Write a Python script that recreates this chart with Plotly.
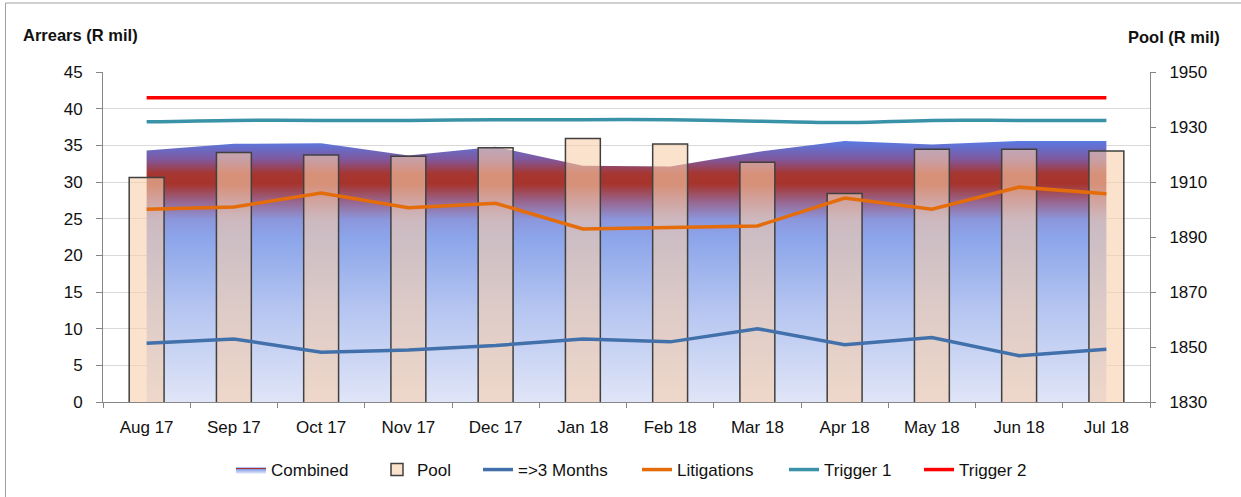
import plotly.graph_objects as go

months = ["Aug 17", "Sep 17", "Oct 17", "Nov 17", "Dec 17", "Jan 18",
          "Feb 18", "Mar 18", "Apr 18", "May 18", "Jun 18", "Jul 18"]
combined = [34.3, 35.2, 35.3, 33.6, 34.8, 32.2, 32.1, 34.1, 35.6, 35.1, 35.6, 35.6]
over3 = [8.0, 8.6, 6.8, 7.1, 7.7, 8.6, 8.2, 10.0, 7.8, 8.8, 6.3, 7.2]
litigations = [26.3, 26.6, 28.5, 26.5, 27.1, 23.6, 23.8, 24.0, 27.8, 26.3, 29.3, 28.4]
trigger1 = [38.2, 38.4, 38.4, 38.4, 38.5, 38.5, 38.5, 38.3, 38.1, 38.4, 38.4, 38.4]
trigger2 = [41.5] * 12
pool = [1911.6, 1920.7, 1919.8, 1919.4, 1922.5, 1925.8, 1923.8, 1917.2, 1905.8, 1921.9, 1921.9, 1921.3]

FONT = "Liberation Sans"
TXT = "#111111"

L, R, T, B = 103, 91, 72, 95
W, H = 1241, 497
pw, ph = W - L - R, H - T - B


def px_x(x):
    return (x - L) / pw


def px_y(y):
    return (T + ph - y) / ph


fig = go.Figure()

fig.add_trace(go.Scatter(
    x=months, y=combined, name="Combined", mode="lines",
    line=dict(width=0, color="rgb(140,80,140)"),
    fill="tozeroy",
    fillgradient=dict(
        type="vertical", start=0, stop=max(combined),
        colorscale=[
            [0.0, "rgb(224,229,247)"],
            [0.35, "rgb(182,198,241)"],
            [0.63, "rgb(140,165,234)"],
            [0.70, "rgb(140,150,220)"],
            [0.77, "rgb(152,100,140)"],
            [0.835, "rgb(166,52,44)"],
            [0.875, "rgb(166,54,48)"],
            [0.93, "rgb(128,88,158)"],
            [1.0, "rgb(88,122,228)"],
        ]),
    xaxis="x", yaxis="y", hoverinfo="skip", legend="legend"))

fig.add_trace(go.Bar(
    x=months, y=pool, name="Pool",
    marker=dict(color="rgba(248,206,172,0.6)",
                line=dict(color="rgb(64,64,64)", width=1.5)),
    width=0.4, xaxis="x", yaxis="y2", legend="legend2"))

line_specs = [
    ("=>3 Months", over3, "rgb(66,112,170)", "linear", "legend3"),
    ("Litigations", litigations, "rgb(228,108,10)", "linear", "legend4"),
    ("Trigger 1", trigger1, "rgb(58,146,168)", "spline", "legend5"),
    ("Trigger 2", trigger2, "rgb(255,0,0)", "linear", "legend6"),
]
for name, vals, col, shape, lg in line_specs:
    fig.add_trace(go.Scatter(
        x=months, y=vals, name=name, mode="lines",
        line=dict(color=col, width=3.5, shape=shape),
        xaxis="x", yaxis="y3", legend=lg))

axis_col = "rgb(134,134,134)"
grid_col = "rgb(217,217,217)"
tickfont = dict(family=FONT, size=17, color=TXT)

# legend text start positions (px)
legend_text_x = [273, 419, 520, 679, 826, 961]
legends = {}
for i, tx in enumerate(legend_text_x):
    key = "legend" if i == 0 else f"legend{i + 1}"
    legends[key] = dict(
        orientation="h", x=px_x(tx - 42), xanchor="left",
        y=px_y(470), yanchor="middle",
        font=dict(family=FONT, size=17, color=TXT),
        bgcolor="rgba(0,0,0,0)")

fig.update_layout(
    width=W, height=H,
    margin=dict(l=L, r=R, t=T, b=B, autoexpand=False),
    paper_bgcolor="white", plot_bgcolor="white",
    font=dict(family=FONT, size=17, color=TXT),
    barmode="overlay",
    xaxis=dict(
        type="category", categoryorder="array", categoryarray=months,
        showline=True, linecolor=axis_col, linewidth=1,
        ticks="outside", ticklen=5, tickcolor=axis_col, tickson="boundaries",
        tickfont=tickfont, showgrid=False, zeroline=False,
        ticklabelstandoff=10, automargin=False),
    yaxis=dict(
        range=[0, 45], dtick=5, showline=True, linecolor=axis_col,
        ticks="outside", ticklen=6, tickcolor=axis_col,
        showgrid=True, gridcolor=grid_col, gridwidth=1, zeroline=False,
        tickfont=tickfont, ticklabelstandoff=10, automargin=False),
    yaxis2=dict(
        range=[1830, 1950], tick0=1830, dtick=20, overlaying="y", side="right",
        showline=True, linecolor=axis_col, ticks="outside", ticklen=5,
        tickcolor=axis_col, showgrid=False, zeroline=False,
        tickfont=tickfont, ticklabelstandoff=10, automargin=False),
    yaxis3=dict(
        range=[0, 45], overlaying="y", visible=False, showgrid=False,
        zeroline=False),
    showlegend=True,
    annotations=[
        dict(text="<b>Arrears (R mil)</b>", xref="paper", yref="paper",
             x=px_x(21), y=px_y(35), xanchor="left",
             yanchor="middle", showarrow=False,
             font=dict(family=FONT, size=16.5, color=TXT)),
        dict(text="<b>Pool (R mil)</b>", xref="paper", yref="paper",
             x=px_x(1222), y=px_y(37), xanchor="right",
             yanchor="middle", showarrow=False,
             font=dict(family=FONT, size=16.5, color=TXT)),
    ],
    shapes=[
        dict(type="rect", xref="paper", yref="paper",
             x0=px_x(5.5), x1=px_x(W + 10),
             y0=px_y(H + 10), y1=px_y(3),
             line=dict(color="rgb(160,160,160)", width=1),
             fillcolor="rgba(0,0,0,0)", layer="below"),
    ],
    **legends,
)

fig.write_html("out.html",
               config={"displayModeBar": False},
               post_script="document.body.style.margin='0px';"
                           "document.body.style.overflow='hidden';")
